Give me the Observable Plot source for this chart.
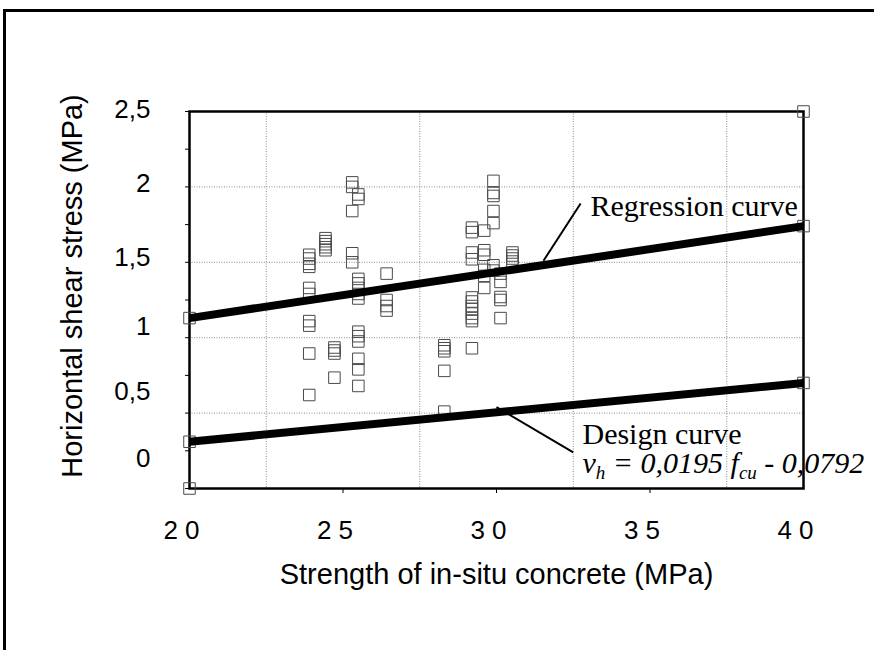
<!DOCTYPE html>
<html><head><meta charset="utf-8">
<script src="https://cdn.jsdelivr.net/npm/d3@7"></script>
<script src="https://cdn.jsdelivr.net/npm/@observablehq/plot@0.6"></script>
<style>
html,body{margin:0;padding:0;background:#fff;}
#wrap{position:relative;width:874px;height:650px;overflow:hidden;}
#wrap svg{display:block;}
#border{position:absolute;left:3px;top:9px;right:0;bottom:0;border-left:3px solid #000;border-top:3px solid #000;pointer-events:none;}
</style></head><body><div id="wrap"><div id="border"></div></div>
<script>
// Measured specimens: strength of in-situ concrete (MPa) per column, and horizontal shear stresses (MPa)
const columnStrength = [23.9, 24.43, 24.72, 25.3, 25.5, 26.42, 28.3, 29.2, 29.6, 29.9, 30.13, 30.52];
const columnStress = [
  [1.55, 1.525, 1.49, 1.47, 1.33, 1.29, 1.11, 1.08, 0.895, 0.62],
  [1.66, 1.64, 1.62, 1.60, 1.58],
  [0.935, 0.915, 0.895, 0.735],
  [2.03, 2.0, 1.84, 1.56, 1.50],
  [1.95, 1.92, 1.39, 1.36, 1.33, 1.29, 1.26, 1.04, 1.01, 0.975, 0.86, 0.79, 0.68],
  [1.425, 1.25, 1.21, 1.18],
  [0.95, 0.93, 0.91, 0.78, 0.51],
  [1.73, 1.70, 1.565, 1.52, 1.267, 1.24, 1.21, 1.19, 1.16, 1.13, 1.11, 0.93],
  [1.71, 1.58, 1.55, 1.45, 1.41, 1.33],
  [2.04, 1.96, 1.94, 1.84, 1.76, 1.48, 1.445],
  [1.425, 1.37, 1.27, 1.25, 1.13],
  [1.565, 1.545, 1.525, 1.505]
];
// Curves (end points)
const curveX = [20, 40];
const regressionY = [1.13, 1.74];
const designY = [0.31, 0.70];
// Corner points of the Excel series
const cornerX = [20, 40];
const cornerY = [0, 2.5];
// Axis ticks and grid
const xTickValues = [20, 25, 30, 35, 40];
const xTickLabels = ["2 0", "2 5", "3 0", "3 5", "4 0"];
const yTickLabels = ["2,5", "2", "1,5", "1", "0,5", "0"];
const yTickLabelPos = [2.51, 2.02, 1.53, 1.07, 0.64, 0.20];
const xGrid = [22.5, 27.5, 32.5, 37.5];
const yGrid = [0.5, 1, 1.5, 2];
const yMinorTicks = [0, 0.25, 0.5, 0.75, 1, 1.25, 1.5, 1.75, 2, 2.25, 2.5];
const xMinorTicks = [25, 30, 35];
// Annotations
const regressionLabel = {text: "Regression curve", x: 33.06, y: 1.81};
const designLabel = {text: "Design curve", x: 32.8, y: 0.298};
const equationLabel = {text: "vh = 0,0195 fcu - 0,0792", x: 32.8, y: 0.106};
const regressionLeader = [{x: 32.74, y: 1.89}, {x: 31.53, y: 1.51}];
const designLeader = [{x: 30.0, y: 0.54}, {x: 32.5, y: 0.24}];

const points = columnStrength.flatMap((x, i) => columnStress[i].map(y => ({x, y})));
const regression = curveX.map((x, i) => ({x, y: regressionY[i]}));
const design = curveX.map((x, i) => ({x, y: designY[i]}));
const corners = cornerX.map((x, i) => ({x, y: cornerY[i]}));

const sans = "Liberation Sans, Arial, sans-serif";
const serif = "Liberation Serif, Times New Roman, serif";

const svg = Plot.plot({
  width: 874, height: 650,
  marginLeft: 189, marginRight: 71, marginTop: 111, marginBottom: 162,
  x: {domain: [20, 40]},
  y: {domain: [0, 2.5]},
  marks: [
    Plot.ruleX(xGrid, {stroke: "#8a8a8a", strokeDasharray: "1,1.5", strokeWidth: 1}),
    Plot.ruleY(yGrid, {stroke: "#8a8a8a", strokeDasharray: "1,1.5", strokeWidth: 1}),
    Plot.axisY({ticks: yMinorTicks, tickSize: 4, tickFormat: () => "", label: null, stroke: "#000"}),
    Plot.axisX({ticks: xMinorTicks, tickSize: 5, tickFormat: () => "", label: null, stroke: "#000"}),
    Plot.frame({stroke: "#000", strokeWidth: 2.5}),
    Plot.dot(points, {x: "x", y: "y", symbol: "square", r: 6.5, fill: "none", stroke: "#4a4a4a", strokeWidth: 1}),
    Plot.dot(regression.concat(design, corners), {x: "x", y: "y", symbol: "square", r: 6.5, fill: "none", stroke: "#4a4a4a", strokeWidth: 1}),
    Plot.line(regression, {x: "x", y: "y", stroke: "#000", strokeWidth: 8, strokeLinecap: "butt"}),
    Plot.line(design, {x: "x", y: "y", stroke: "#000", strokeWidth: 8, strokeLinecap: "butt"}),
    Plot.line(regressionLeader, {x: "x", y: "y", stroke: "#000", strokeWidth: 2, strokeLinecap: "butt"}),
    Plot.line(designLeader, {x: "x", y: "y", stroke: "#000", strokeWidth: 2, strokeLinecap: "butt"}),
    Plot.text([regressionLabel, designLabel], {x: "x", y: "y", text: "text", textAnchor: "start", lineAnchor: "bottom", fontSize: 30, fontFamily: serif, fill: "#000"}),
    Plot.text([equationLabel], {x: "x", y: "y", text: "text", textAnchor: "start", lineAnchor: "bottom", fontSize: 30, fontFamily: serif, fontStyle: "italic", fill: "#000"}),
    Plot.text(xTickValues, {x: d => d, text: (d, i) => xTickLabels[i], frameAnchor: "bottom", dy: 50, dx: -8, textAnchor: "middle", lineAnchor: "bottom", fontSize: 26, fontFamily: sans, fill: "#000"}),
    Plot.text(yTickLabelPos, {y: d => d, text: (d, i) => yTickLabels[i], frameAnchor: "left", dx: -39, textAnchor: "end", lineAnchor: "middle", fontSize: 26, fontFamily: sans, fill: "#000"}),
    Plot.text(["Horizontal shear stress (MPa)"], {frameAnchor: "left", rotate: -90, dx: -117, dy: -14, textAnchor: "middle", lineAnchor: "middle", fontSize: 29, fontFamily: sans, fill: "#000"}),
    Plot.text(["Strength of in-situ concrete (MPa)"], {frameAnchor: "bottom", dy: 95, textAnchor: "middle", lineAnchor: "bottom", fontSize: 29, fontFamily: sans, fill: "#000"})
  ]
});
document.getElementById("wrap").insertBefore(svg, document.getElementById("border"));

// Typeset the equation with subscripts
d3.select(svg).selectAll("text").filter(function() { return this.textContent === equationLabel.text; })
  .each(function() {
    const t = d3.select(this);
    t.text(null);
    t.append("tspan").text("v");
    t.append("tspan").attr("font-size", 19).attr("dy", 6).text("h");
    t.append("tspan").attr("dy", -6).text(" = 0,0195 f");
    t.append("tspan").attr("font-size", 19).attr("dy", 6).text("cu");
    t.append("tspan").attr("dy", -6).text(" - 0,0792");
  });
</script></body></html>
